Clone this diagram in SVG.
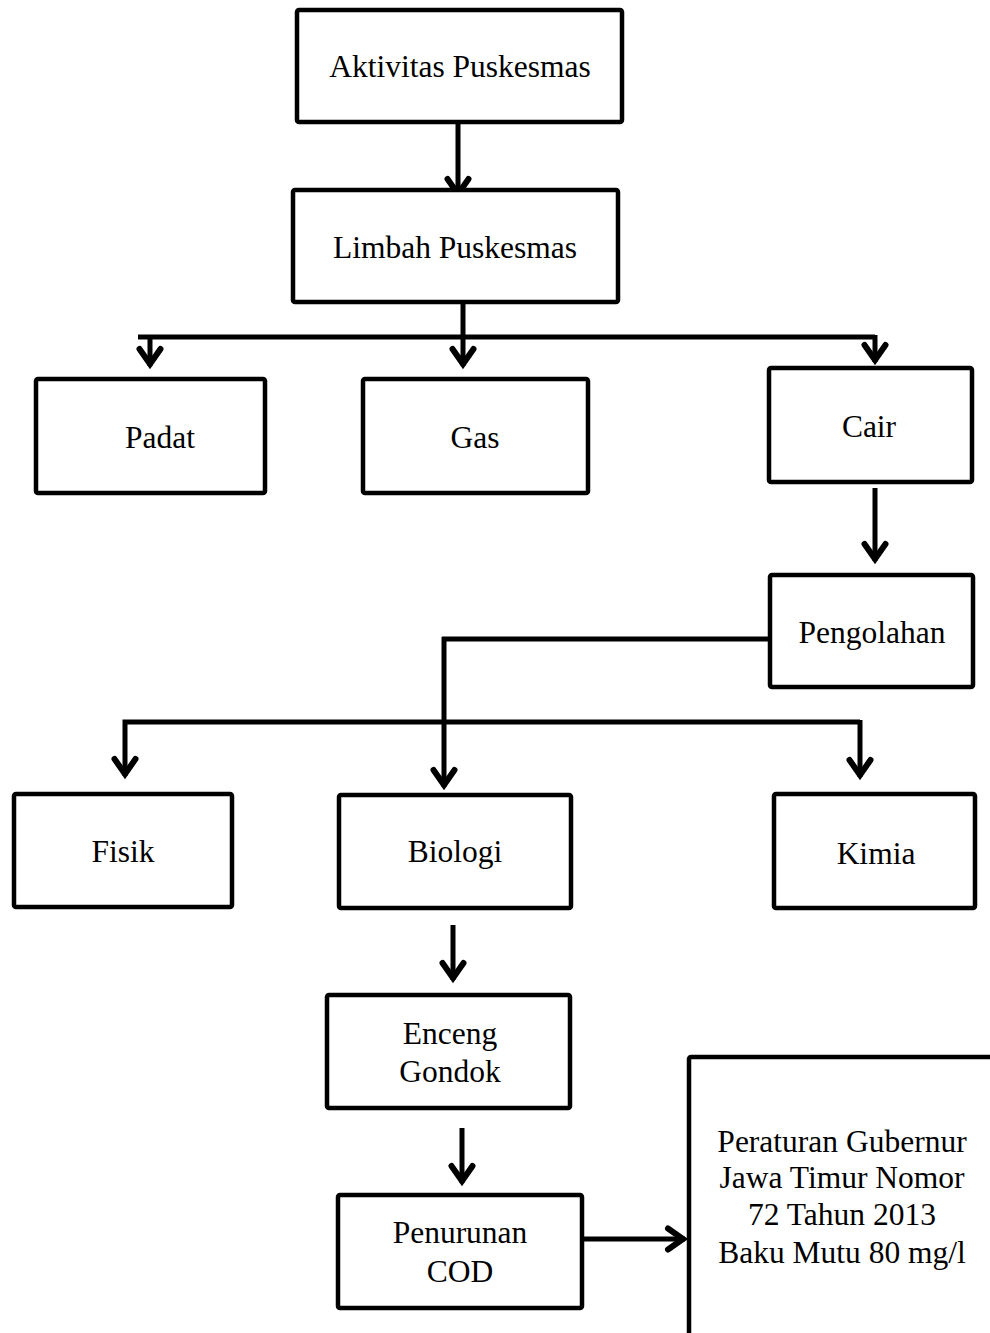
<svg xmlns="http://www.w3.org/2000/svg" width="990" height="1333" viewBox="0 0 990 1333">
<style>
.box{fill:#fff;stroke:#000;stroke-width:4.5;stroke-linejoin:round}
.lbl{font-family:"Liberation Serif","Times New Roman",serif;font-size:31.5px;fill:#000;text-anchor:middle}
.con{fill:none;stroke:#000;stroke-width:5;stroke-linejoin:miter}
</style>
<defs>
<marker id="arr" markerUnits="userSpaceOnUse" viewBox="-22 -15 26 30" refX="0" refY="0" markerWidth="26" markerHeight="30" orient="auto" overflow="visible">
<path d="M-17,-10.5 L-2,0 L-17,10.5" fill="none" stroke="#000" stroke-width="6" stroke-linecap="round" stroke-linejoin="miter"/>
</marker>
</defs>
<rect width="990" height="1333" fill="#fff"/>
<g id="connectors">
<path class="con" d="M458,122 V196" marker-end="url(#arr)"/>
<path class="con" d="M463,302 V337"/>
<path class="con" d="M138,337 H875"/>
<path class="con" d="M150,337 V366" marker-end="url(#arr)"/>
<path class="con" d="M463,337 V366" marker-end="url(#arr)"/>
<path class="con" d="M875,335 V362" marker-end="url(#arr)"/>
<path class="con" d="M875,488 V561" marker-end="url(#arr)"/>
<path class="con" d="M770,639 H442 M444,637 V787" marker-end="url(#arr)"/>
<path class="con" d="M860,722 H125 V776" marker-end="url(#arr)"/>
<path class="con" d="M860,720 V777" marker-end="url(#arr)"/>
<path class="con" d="M453,925 V980" marker-end="url(#arr)"/>
<path class="con" d="M462,1128 V1183" marker-end="url(#arr)"/>
<path class="con" d="M584,1239 H685" marker-end="url(#arr)"/>
</g>
<g id="aktivitas"><rect class="box" x="297" y="10" width="325" height="112" rx="2"/><text class="lbl" x="460" y="77">Aktivitas Puskesmas</text></g>
<g id="limbah"><rect class="box" x="293" y="190" width="325" height="112" rx="2"/><text class="lbl" x="455" y="258">Limbah Puskesmas</text></g>
<g id="padat"><rect class="box" x="36" y="379" width="229" height="114" rx="2"/><text class="lbl" x="160" y="448">Padat</text></g>
<g id="gas"><rect class="box" x="363" y="379" width="225" height="114" rx="2"/><text class="lbl" x="475" y="448">Gas</text></g>
<g id="cair"><rect class="box" x="769" y="368" width="203" height="114" rx="2"/><text class="lbl" x="869" y="437">Cair</text></g>
<g id="pengolahan"><rect class="box" x="770" y="575" width="203" height="112" rx="2"/><text class="lbl" x="872" y="643">Pengolahan</text></g>
<g id="fisik"><rect class="box" x="14" y="794" width="218" height="113" rx="2"/><text class="lbl" x="123" y="862">Fisik</text></g>
<g id="biologi"><rect class="box" x="339" y="795" width="232" height="113" rx="2"/><text class="lbl" x="455" y="862">Biologi</text></g>
<g id="kimia"><rect class="box" x="774" y="794" width="201" height="114" rx="2"/><text class="lbl" x="876" y="864">Kimia</text></g>
<g id="enceng"><rect class="box" x="327" y="995" width="243" height="113" rx="2"/><text class="lbl" x="450" y="1044">Enceng</text><text class="lbl" x="450" y="1082">Gondok</text></g>
<g id="penurunan"><rect class="box" x="338" y="1195" width="244" height="113" rx="2"/><text class="lbl" x="460" y="1243">Penurunan</text><text class="lbl" x="460" y="1282">COD</text></g>
<g id="peraturan"><rect class="box" x="689" y="1057" width="400" height="400" rx="2"/><text class="lbl" x="842" y="1152">Peraturan Gubernur</text><text class="lbl" x="842" y="1188">Jawa Timur Nomor</text><text class="lbl" x="842" y="1225">72 Tahun 2013</text><text class="lbl" x="842" y="1263">Baku Mutu 80 mg/l</text></g>
</svg>
